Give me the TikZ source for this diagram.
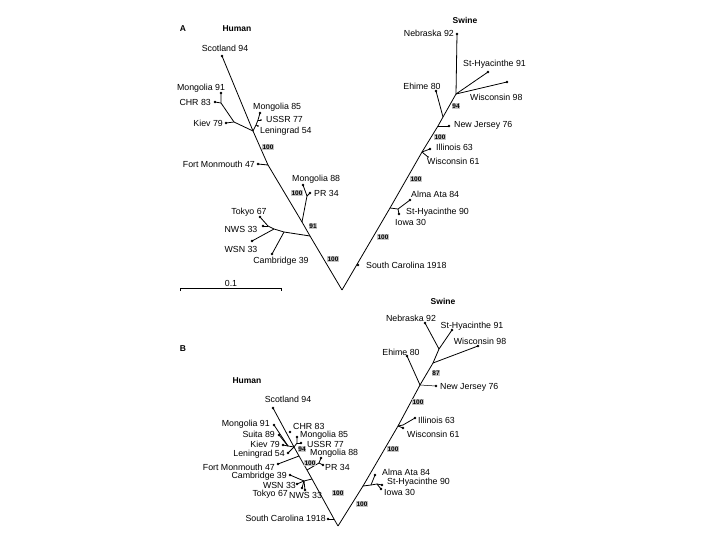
\documentclass[tikz,border=0pt]{standalone}
\usepackage{fontspec}
\setmainfont{Liberation Sans}
\begin{document}
\begin{tikzpicture}[x=1pt,y=-1pt,
  br/.style={line width=0.8pt},
  lab/.style={font=\fontsize{8.8}{10}\selectfont, inner sep=0pt},
  hd/.style={font=\fontsize{8.5}{10}\selectfont\bfseries, inner sep=0pt},
  bs/.style={fill=black!22, font=\fontsize{6.5}{7}\selectfont\bfseries, inner sep=0.8pt},
  dot/.style={circle, fill, inner sep=0pt, minimum size=2.6pt}]
\useasboundingbox (0,0) rectangle (720,540);

% ================= Tree A =================
\node[hd] (lA) at (183,29) {A};
\node[hd] (humA) at (237,29) {Human};
\node[hd] (swA) at (465,20) {Swine};

% human main line
\coordinate (rA) at (342,290);
\node[dot] (scoA) at (222,56) {};
\coordinate (jA1) at (253,131);
\coordinate (jA2) at (268,165);
\coordinate (jA3) at (302,222);
\coordinate (jA4) at (310,236);
\draw[br] (scoA.center) -- (jA1) -- (jA2) -- (jA3) -- (jA4) -- (rA);

% left clade
\coordinate (kA1) at (234,122);
\coordinate (kA2) at (221,103);
\node[dot] (kievA) at (226,123) {};
\node[dot] (mo91A) at (221,93) {};
\node[dot] (chrA) at (215,102) {};
\draw[br] (jA1) -- (kA1) -- (kievA.center);
\draw[br] (kA1) -- (kA2) -- (mo91A.center);
\draw[br] (kA2) -- (chrA.center);

% Mongolia 85 clade
\node[dot] (mo85A) at (260,113) {};
\coordinate (uA) at (258,120);
\coordinate (lnA) at (256,125);
\node[dot, minimum size=1.8pt] (ussrA) at (261,120) {};
\node[dot, minimum size=1.8pt] (lenA) at (258,126) {};
\draw[br] (jA1) -- (lnA) -- (uA) -- (mo85A.center);
\draw[br] (uA) -- (ussrA.center);
\draw[br] (lnA) -- (lenA.center);

% Fort Monmouth
\node[dot] (fmA) at (258,164) {};
\draw[br] (jA2) -- (fmA.center);

% PR34 clade
\coordinate (mA3) at (307,196);
\node[dot] (prA) at (310,193) {};
\node[dot] (mo88A) at (303,185) {};
\draw[br] (jA3) -- (mA3) -- (prA.center);
\draw[br] (mA3) -- (mo88A.center);

% human cluster
\coordinate (hc1) at (284,232);
\coordinate (hc2) at (274,229);
\coordinate (hc3) at (268,226);
\node[dot] (tokA) at (260,217) {};
\node[dot] (nwsA) at (263,226) {};
\node[dot] (wsnA) at (252,241) {};
\node[dot] (camA) at (272,254) {};
\draw[br] (jA4) -- (hc1) -- (hc2) -- (hc3) -- (tokA.center);
\draw[br] (hc3) -- (nwsA.center);
\draw[br] (hc2) -- (wsnA.center);
\draw[br] (hc1) -- (camA.center);

% human labels A
\node[lab] (tScoA) at (225,48) {Scotland 94};
\node[lab] (tMo91A) at (201,88) {Mongolia 91};
\node[lab, anchor=east] (tChrA) at (211,102) {CHR 83};
\node[lab, anchor=east] (tKievA) at (223,123) {Kiev 79};
\node[lab, anchor=west] (tMo85A) at (253,107) {Mongolia 85};
\node[lab, anchor=west] (tUssrA) at (266,119) {USSR 77};
\node[lab, anchor=west] (tLenA) at (260,131) {Leningrad 54};
\node[bs] (bA1) at (268,147) {100};
\node[lab, anchor=east] (tFmA) at (255,164) {Fort Monmouth 47};
\node[lab, anchor=west] (tMo88A) at (292,179) {Mongolia 88};
\node[lab, anchor=west] (tPrA) at (314,193) {PR 34};
\node[bs] (bA2) at (297,193) {100};
\node[bs] (bA3) at (313,226) {91};
\node[lab] (tTokA) at (249,212) {Tokyo 67};
\node[lab] (tNwsA) at (241,229) {NWS 33};
\node[lab] (tWsnA) at (241,249) {WSN 33};
\node[lab] (tCamA) at (281,261) {Cambridge 39};
\node[bs] (bA4) at (333,259) {100};

% scale bar
\coordinate (sb1) at (180,288);
\coordinate (sb2) at (281,288);
\draw[line width=0.7pt] ([yshift=-3pt]sb1) -- (sb1) -- (sb2) -- ([yshift=-3pt]sb2);
\node[lab] (tSb) at (231,283) {0.1};

% swine A
\coordinate (sA2) at (390,208);
\coordinate (sA3) at (422,152);
\coordinate (sA4) at (438,126);
\coordinate (sA5) at (443,117);
\coordinate (sA6) at (456,94);
\draw[br] (rA) -- (sA2) -- (sA3) -- (sA4) -- (sA5) -- (sA6);
\node[dot] (scA) at (358,265) {};
\coordinate (aA1) at (398,209);
\node[dot] (almaA) at (410,200) {};
\node[dot] (sh90A) at (399,214) {};
\draw[br] (sA2) -- (aA1) -- (almaA.center);
\draw[br] (aA1) -- (sh90A.center);
\node[dot] (illA) at (430,149) {};
\node[dot, minimum size=1.8pt] (wi61A) at (428,157) {};
\draw[br] (sA3) -- (illA.center);
\draw[br] (sA3) -- (wi61A.center);
\node[dot] (njA) at (449,126) {};
\draw[br] (sA4) -- (njA.center);
\node[dot] (ehA) at (436,91) {};
\draw[br] (sA5) -- (ehA.center);
\node[dot] (nebA) at (457,34) {};
\node[dot] (sh91A) at (488,72) {};
\node[dot] (wi98A) at (507,82) {};
\draw[br] (sA6) -- (nebA.center);
\draw[br] (sA6) -- (sh91A.center);
\draw[br] (sA6) -- (wi98A.center);

\node[lab, anchor=west] (tScA) at (366,265) {South Carolina 1918};
\node[bs] (bA5) at (383,237) {100};
\node[lab, anchor=west] (tAlmaA) at (411,194) {Alma Ata 84};
\node[lab, anchor=west] (tSh90A) at (406,212) {St-Hyacinthe 90};
\node[lab, anchor=west] (tIowaA) at (395,222) {Iowa 30};
\node[bs] (bA6) at (416,179) {100};
\node[lab, anchor=west] (tIllA) at (436,147) {Illinois 63};
\node[lab, anchor=west] (tWi61A) at (427,161) {Wisconsin 61};
\node[bs] (bA7) at (440,137) {100};
\node[lab, anchor=west] (tNjA) at (454,125) {New Jersey 76};
\node[lab] (tEhA) at (422,86) {Ehime 80};
\node[bs] (bA8) at (456,106) {94};
\node[lab, anchor=east] (tNebA) at (454,33) {Nebraska 92};
\node[lab, anchor=west] (tSh91A) at (463,64) {St-Hyacinthe 91};
\node[lab, anchor=west] (tWi98A) at (470,97) {Wisconsin 98};

% ================= Tree B =================
\node[hd] (lB) at (183,349) {B};
\node[hd] (humB) at (247,381) {Human};
\node[hd] (swB) at (443,301) {Swine};

\coordinate (rB) at (338,526);
\node[dot] (scoB) at (273,408) {};
\coordinate (jB1) at (294,447);
\coordinate (jB2) at (299,456);
\coordinate (jB3) at (307,470);
\coordinate (jB4) at (312,479);
\coordinate (jB5) at (334,519);
\draw[br] (scoB.center) -- (jB1) -- (jB2) -- (jB3) -- (jB4) -- (jB5) -- (rB);

% left cluster B
\coordinate (lB1) at (288,446);
\node[dot] (kievB) at (283,445) {};
\node[dot] (mo91B) at (274,425) {};
\node[dot] (suitaB) at (279,435) {};
\node[dot] (lenB) at (288,453) {};
\draw[br] (jB1) -- (lB1) -- (kievB.center);
\draw[br] (lB1) -- (mo91B.center);
\draw[br] (lB1) -- (suitaB.center);
\draw[br] (jB1) -- (lenB.center);
\node[dot] (chrB) at (290,432) {};
\coordinate (mB) at (297,443);
\node[dot] (mo85B) at (297,437) {};
\node[dot] (ussrB) at (301,443) {};
\draw[br] (jB1) -- (mB) -- (mo85B.center);
\draw[br] (mB) -- (ussrB.center);
\node[dot] (fmB) at (278,464) {};
\draw[br] (jB2) -- (fmB.center);

% PR34 clade B
\coordinate (pB) at (319,463);
\node[dot] (prB) at (323,465) {};
\node[dot] (mo88B) at (321,458) {};
\draw[br] (jB3) -- (pB) -- (prB.center);
\draw[br] (pB) -- (mo88B.center);

% cluster B
\coordinate (cB) at (304,481);
\node[dot] (camB) at (290,475) {};
\node[dot] (wsnB) at (297,484) {};
\node[dot] (tokB) at (302,488) {};
\node[dot] (nwsB) at (305,490) {};
\draw[br] (jB4) -- (cB) -- (camB.center);
\draw[br] (cB) -- (wsnB.center);
\draw[br] (cB) -- (tokB.center);
\draw[br] (cB) -- (nwsB.center);

% South Carolina B
\node[dot] (scB) at (328,519) {};
\draw[br] (jB5) -- (scB.center);

% human labels B
\node[lab] (tScoB) at (288,399) {Scotland 94};
\node[lab, anchor=east] (tMo91B) at (270,424) {Mongolia 91};
\node[lab, anchor=west] (tChrB) at (293,426) {CHR 83};
\node[lab, anchor=west] (tMo85B) at (300,435.5) {Mongolia 85};
\node[lab, anchor=east] (tSuitaB) at (275,434) {Suita 89};
\node[lab, anchor=west] (tUssrB) at (307,444) {USSR 77};
\node[lab, anchor=east] (tKievB) at (280,444) {Kiev 79};
\node[bs] (bB1) at (302,449) {94};
\node[lab, anchor=west] (tMo88B) at (310,453) {Mongolia 88};
\node[lab, anchor=east] (tLenB) at (285,454) {Leningrad 54};
\node[lab, anchor=east] (tFmB) at (275,467) {Fort Monmouth 47};
\node[bs] (bB2) at (310,463) {100};
\node[lab, anchor=west] (tPrB) at (325,467) {PR 34};
\node[lab, anchor=east] (tCamB) at (287,476.5) {Cambridge 39};
\node[lab, anchor=east] (tWsnB) at (296,485) {WSN 33};
\node[lab, anchor=east] (tTokB) at (288,494) {Tokyo 67};
\node[lab, anchor=west] (tNwsB) at (289,495) {NWS 33};
\node[bs] (bB3) at (338,493) {100};
\node[lab, anchor=east] (tScB) at (326,518) {South Carolina 1918};

% swine B
\coordinate (sB1) at (363,486);
\coordinate (sB2) at (398,426);
\coordinate (sB3) at (420,385);
\coordinate (sB4) at (433,363);
\coordinate (sB5) at (439,349);
\draw[br] (rB) -- (sB1) -- (sB2) -- (sB3) -- (sB4) -- (sB5);
\coordinate (aB2) at (371,485);
\coordinate (aB1) at (377,484);
\node[dot] (almaB) at (375,475) {};
\node[dot] (sh90B) at (382,485) {};
\node[dot] (iowaB) at (381,489) {};
\draw[br] (sB1) -- (aB2) -- (aB1) -- (sh90B.center);
\draw[br] (aB1) -- (iowaB.center);
\draw[br] (aB2) -- (almaB.center);
\coordinate (iB) at (403,425);
\node[dot] (illB) at (415,418) {};
\node[dot] (wi61B) at (403,428) {};
\draw[br] (sB2) -- (iB) -- (illB.center);
\draw[br] (sB2) -- (wi61B.center);
\node[dot] (ehB) at (407,356) {};
\node[dot] (njB) at (436,386) {};
\draw[br] (sB3) -- (ehB.center);
\draw[line width=0.5pt] (sB3) -- (njB.center);
\node[dot] (wi98B) at (478,346) {};
\draw[br] (sB4) -- (wi98B.center);
\node[dot] (nebB) at (425,323) {};
\node[dot] (sh91B) at (452,330) {};
\draw[br] (sB5) -- (nebB.center);
\draw[br] (sB5) -- (sh91B.center);

\node[lab] (tNebB) at (411,318) {Nebraska 92};
\node[lab] (tSh91B) at (472,326) {St-Hyacinthe 91};
\node[lab] (tWi98B) at (480,341) {Wisconsin 98};
\node[lab] (tEhB) at (401,352) {Ehime 80};
\node[bs] (bB4) at (436,373) {87};
\node[lab, anchor=west] (tNjB) at (440,387) {New Jersey 76};
\node[bs] (bB5) at (418,402) {100};
\node[lab, anchor=west] (tIllB) at (418,420) {Illinois 63};
\node[lab, anchor=west] (tWi61B) at (407,434) {Wisconsin 61};
\node[bs] (bB6) at (393,449) {100};
\node[lab, anchor=west] (tAlmaB) at (382,472) {Alma Ata 84};
\node[lab, anchor=west] (tSh90B) at (387,482) {St-Hyacinthe 90};
\node[lab, anchor=west] (tIowaB) at (384,492) {Iowa 30};
\node[bs] (bB7) at (362,504) {100};
\end{tikzpicture}
\end{document}
